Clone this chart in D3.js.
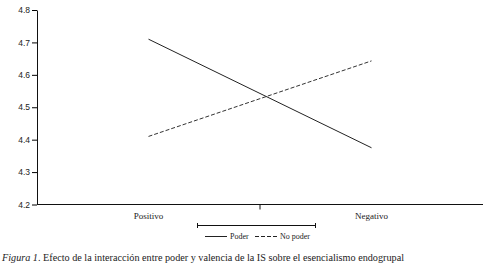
<!DOCTYPE html>
<html>
<head>
<meta charset="utf-8">
<script src="https://cdn.jsdelivr.net/npm/d3@7"></script>
<style>
  body { margin: 0; background: #fff; }
  svg text { font-family: "Liberation Serif", "Times New Roman", serif; fill: #222; }
</style>
</head>
<body>
<div id="chart"></div>
<script>
var categories = ["Positivo", "Negativo"];
var poder = [4.71, 4.375];
var noPoder = [4.41, 4.643];
var yTicks = [4.2, 4.3, 4.4, 4.5, 4.6, 4.7, 4.8];

var width = 486, height = 269;
var margin = {top: 10, right: 3, bottom: 64, left: 37};

var svg = d3.select("#chart").append("svg")
  .attr("width", width)
  .attr("height", height);

var x = d3.scalePoint()
  .domain(categories)
  .range([margin.left, width - margin.right])
  .padding(0.5);

var y = d3.scaleLinear()
  .domain([4.2, 4.8])
  .range([height - margin.bottom - 0.5, margin.top]);

// y axis
var yAxis = svg.append("g")
  .attr("transform", "translate(" + margin.left + ",0)")
  .call(d3.axisLeft(y).tickValues(yTicks).tickFormat(d3.format(".1f")).tickSize(5).tickPadding(2).tickSizeOuter(0));
yAxis.selectAll("text")
  .style("font-size", "8.5px")
  .style("font-family", "'Liberation Sans', Arial, sans-serif")
  .attr("fill", "#444");
yAxis.select(".domain").attr("stroke", "#111");

// x axis (only middle divider tick)
var x0 = y(4.2);
svg.append("line")
  .attr("x1", margin.left).attr("x2", width - margin.right)
  .attr("y1", x0).attr("y2", x0)
  .attr("stroke", "#111");
var mid = (x(categories[0]) + x(categories[1])) / 2;
svg.append("line")
  .attr("x1", mid).attr("x2", mid)
  .attr("y1", x0).attr("y2", x0 + 5)
  .attr("stroke", "#111");
svg.selectAll(".xlab")
  .data(categories)
  .enter().append("text")
  .attr("class", "xlab")
  .attr("x", function(d) { return x(d); })
  .attr("y", x0 + 14)
  .attr("text-anchor", "middle")
  .style("font-size", "9px")
  .text(function(d) { return d; });

var line = d3.line()
  .x(function(d, i) { return x(categories[i]); })
  .y(function(d) { return y(d); });

svg.append("path")
  .datum(poder)
  .attr("d", line)
  .attr("fill", "none")
  .attr("stroke", "#222")
  .attr("stroke-width", 1);

svg.append("path")
  .datum(noPoder)
  .attr("d", line)
  .attr("fill", "none")
  .attr("stroke", "#333")
  .attr("stroke-width", 1)
  .attr("stroke-dasharray", "4,2");

// legend
var lg = svg.append("g");
lg.append("line").attr("x1", 197).attr("x2", 316).attr("y1", 225.5).attr("y2", 225.5).attr("stroke", "#111");
lg.append("line").attr("x1", 197.5).attr("x2", 197.5).attr("y1", 223).attr("y2", 228).attr("stroke", "#111");
lg.append("line").attr("x1", 315.5).attr("x2", 315.5).attr("y1", 223).attr("y2", 228).attr("stroke", "#111");

var legendItems = [
  {name: "Poder", dash: null, x: 205},
  {name: "No poder", dash: "4,2", x: 255}
];
legendItems.forEach(function(d) {
  lg.append("line")
    .attr("x1", d.x).attr("x2", d.x + 22)
    .attr("y1", 236.5).attr("y2", 236.5)
    .attr("stroke", "#222")
    .attr("stroke-dasharray", d.dash);
  lg.append("text")
    .attr("x", d.x + 25).attr("y", 239)
    .style("font-size", "8px")
    .text(d.name);
});

// caption
var cap = svg.append("text")
  .attr("x", 2).attr("y", 261)
  .style("font-size", "10.2px");
cap.append("tspan").style("font-style", "italic").text("Figura 1");
cap.append("tspan").text(". Efecto de la interacción entre poder y valencia de la IS sobre el esencialismo endogrupal");
</script>
</body>
</html>
